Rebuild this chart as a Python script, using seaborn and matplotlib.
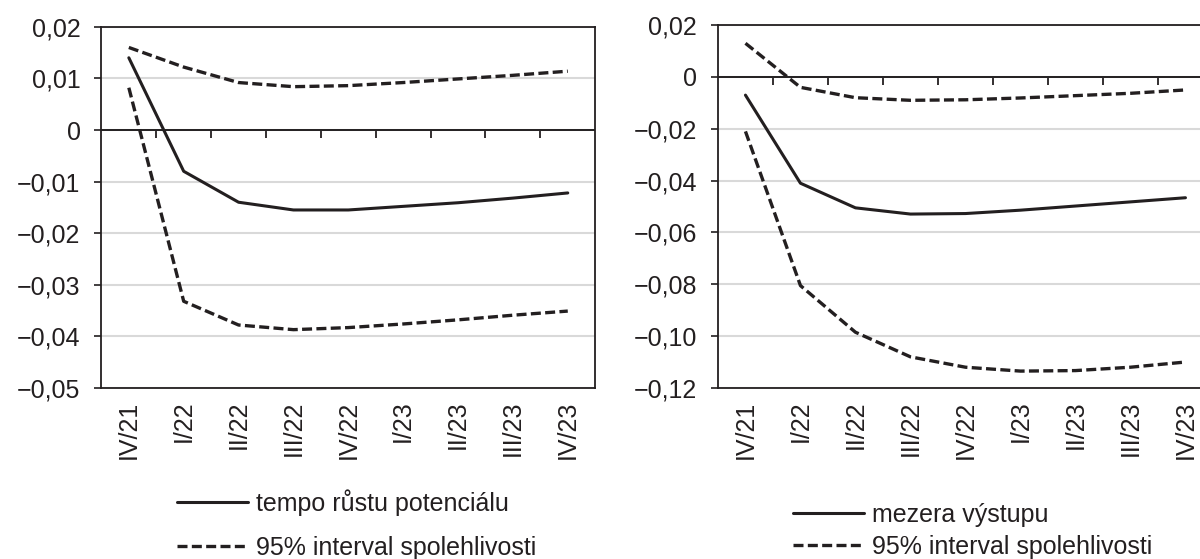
import matplotlib
matplotlib.use("Agg")
import matplotlib.pyplot as plt
import seaborn as sns
import pandas as pd
import numpy as np

quarters = ["IV/21", "I/22", "II/22", "III/22", "IV/22", "I/23", "II/23", "III/23", "IV/23"]

# left panel: tempo růstu potenciálu
pot_mid = [0.0140, -0.0080, -0.0140, -0.0155, -0.0155, -0.0148, -0.0141, -0.0132, -0.0122]
pot_up = [0.0160, 0.0122, 0.0092, 0.0084, 0.0086, 0.0092, 0.0099, 0.0106, 0.0114]
pot_lo = [0.0082, -0.0332, -0.0378, -0.0387, -0.0383, -0.0376, -0.0368, -0.0359, -0.0351]

# right panel: mezera výstupu
gap_mid = [-0.0070, -0.0410, -0.0505, -0.0529, -0.0527, -0.0514, -0.0498, -0.0482, -0.0466]
gap_up = [0.0130, -0.0040, -0.0080, -0.0090, -0.0088, -0.0081, -0.0072, -0.0063, -0.0050]
gap_lo = [-0.0210, -0.0805, -0.0985, -0.1080, -0.1120, -0.1135, -0.1133, -0.1120, -0.1100]

left_yticks = [0.02, 0.01, 0.0, -0.01, -0.02, -0.03, -0.04, -0.05]
left_ylabels = ["0,02", "0,01", "0", "−0,01", "−0,02", "−0,03", "−0,04", "−0,05"]
right_yticks = [0.02, 0.0, -0.02, -0.04, -0.06, -0.08, -0.10, -0.12]
right_ylabels = ["0,02", "0", "−0,02", "−0,04", "−0,06", "−0,08", "−0,10", "−0,12"]

label_mid_left = "tempo růstu potenciálu"
label_mid_right = "mezera výstupu"
label_ci = "95% interval spolehlivosti"

sns.set_theme(style="white")
plt.rcParams["font.family"] = ["Liberation Sans", "DejaVu Sans"]
FS = 18
LFS = 18
plt.rcParams["font.size"] = FS

fig = plt.figure(figsize=(12, 5.59), dpi=100)
ax1 = fig.add_axes([0.0845, 0.306, 0.4115, 0.646])
ax2 = fig.add_axes([0.5983, 0.306, 0.4125, 0.649])

DASH = (3.0, 1.3)
LW_SOLID = 2.2
LW_DASH = 2.4
INK = "#231f20"
GRID = "#d9d9d9"


def draw(ax, mid, up, lo, yticks, ylabels, mid_label, leg_anchor, leg_spacing):
    x = np.arange(len(quarters))
    df = pd.DataFrame({"x": x, "mid": mid, "up": up, "lo": lo})
    sns.lineplot(data=df, x="x", y="mid", ax=ax, color=INK, lw=LW_SOLID, label=mid_label, zorder=4)
    sns.lineplot(data=df, x="x", y="up", ax=ax, color=INK, lw=LW_DASH,
                 linestyle=(0, DASH), label=label_ci, zorder=4)
    sns.lineplot(data=df, x="x", y="lo", ax=ax, color=INK, lw=LW_DASH,
                 linestyle=(0, DASH), label="_nolegend_", zorder=4)
    ax.set_xlim(-0.5, len(quarters) - 0.5)
    ax.set_ylim(min(yticks), max(yticks))
    ax.set_yticks(yticks)
    ax.set_yticklabels(ylabels)
    ax.set_xticks(x)
    ax.set_xticklabels(quarters, rotation=90, va="top")
    ax.set_xlabel("")
    ax.set_ylabel("")
    ax.grid(axis="y", color=GRID, lw=1.5)
    ax.set_axisbelow(True)
    for s in ax.spines.values():
        s.set_color(INK)
        s.set_linewidth(1.3)
        s.set_visible(True)
    ax.tick_params(axis="x", length=0, pad=9, labelsize=FS, colors=INK)
    ax.tick_params(axis="y", length=5, width=1.2, direction="out", pad=10, left=True,
                   labelsize=FS, colors=INK)
    # zero axis line
    ax.axhline(0, color=INK, lw=1.4, zorder=3)
    # category separator ticks on the zero axis
    lo_, hi_ = min(yticks), max(yticks)
    zero_pos = (0 - lo_) / (hi_ - lo_)
    sec = ax.secondary_xaxis(zero_pos)
    sec.spines["bottom"].set_visible(False)
    sec.spines["top"].set_visible(False)
    sec.set_xticks(np.arange(0.5, len(quarters) - 0.5, 1.0))
    sec.tick_params(axis="x", direction="out", length=6, width=1.3, labelbottom=False,
                    labeltop=False, colors=INK, bottom=True, top=False)
    leg = ax.legend(loc="upper left", bbox_to_anchor=leg_anchor, bbox_transform=fig.transFigure,
                    frameon=False, borderpad=0, borderaxespad=0, handlelength=2.85,
                    handletextpad=0.32, labelspacing=leg_spacing, fontsize=LFS)
    for t in leg.get_texts():
        t.set_color(INK)


draw(ax1, pot_mid, pot_up, pot_lo, left_yticks, left_ylabels, label_mid_left,
     (0.1475, 0.1253), 0.8)
draw(ax2, gap_mid, gap_up, gap_lo, right_yticks, right_ylabels, label_mid_right,
     (0.661, 0.1002), 0.32)

fig.savefig("out.png", dpi=100)
